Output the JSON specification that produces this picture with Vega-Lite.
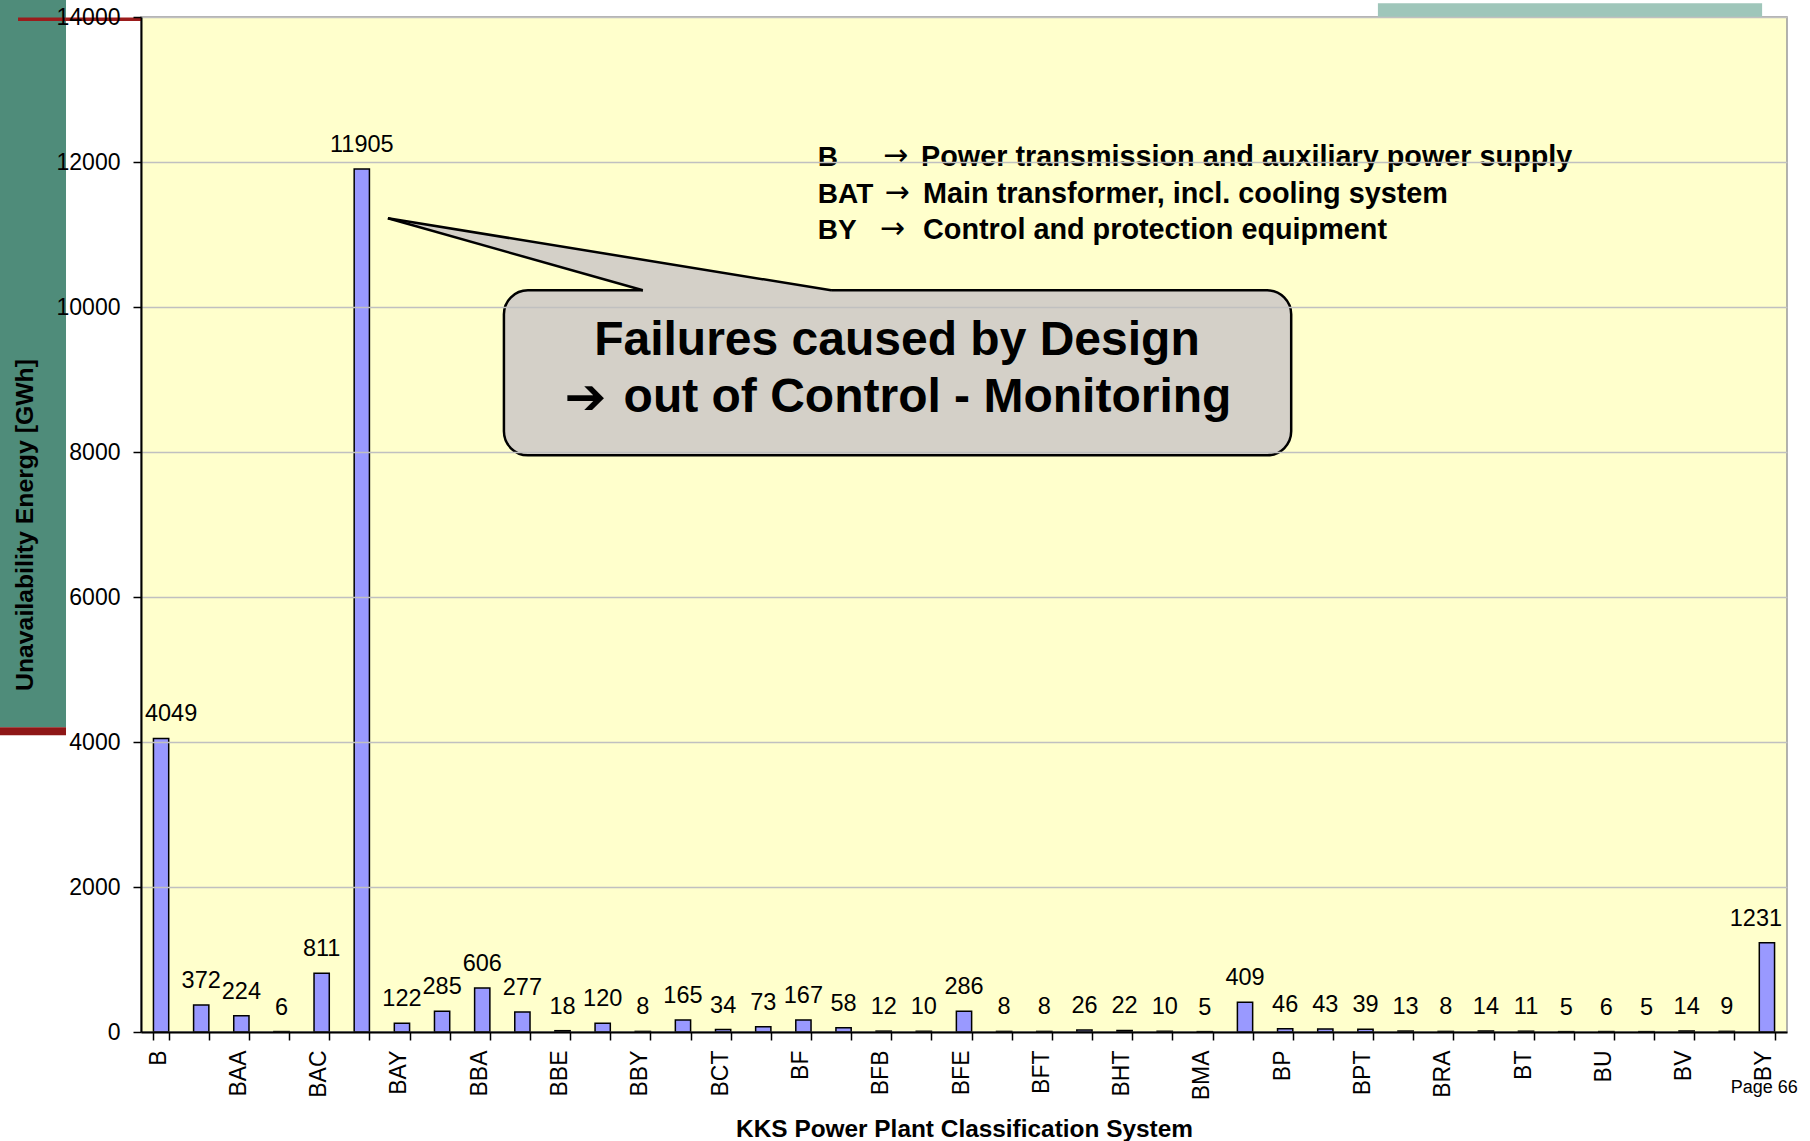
{
  "$schema": "https://vega.github.io/schema/vega-lite/v6.json",
  "width": 1646,
  "height": 1015,
  "autosize": {"type": "none"},
  "padding": {"left": 141, "top": 17, "right": 23, "bottom": 109},
  "background": "white",
  "config": {
    "font": "Liberation Sans",
    "view": {"fill": "#FFFFCC", "stroke": "#999999", "strokeWidth": 1.5}
  },
  "datasets": {
    "bars": [
      {"code": "B", "value": 4049}, {"code": "BA", "value": 372}, {"code": "BAA", "value": 224},
      {"code": "BAB", "value": 6}, {"code": "BAC", "value": 811}, {"code": "BAT", "value": 11905},
      {"code": "BAY", "value": 122}, {"code": "BB", "value": 285}, {"code": "BBA", "value": 606},
      {"code": "BBC", "value": 277}, {"code": "BBE", "value": 18}, {"code": "BBT", "value": 120},
      {"code": "BBY", "value": 8}, {"code": "BC", "value": 165}, {"code": "BCT", "value": 34},
      {"code": "BE", "value": 73}, {"code": "BF", "value": 167}, {"code": "BFA", "value": 58},
      {"code": "BFB", "value": 12}, {"code": "BFC", "value": 10}, {"code": "BFE", "value": 286},
      {"code": "BFS", "value": 8}, {"code": "BFT", "value": 8}, {"code": "BH", "value": 26},
      {"code": "BHT", "value": 22}, {"code": "BM", "value": 10}, {"code": "BMA", "value": 5},
      {"code": "BMT", "value": 409}, {"code": "BP", "value": 46}, {"code": "BPA", "value": 43},
      {"code": "BPT", "value": 39}, {"code": "BR", "value": 13}, {"code": "BRA", "value": 8},
      {"code": "BRU", "value": 14}, {"code": "BT", "value": 11}, {"code": "BTA", "value": 5},
      {"code": "BU", "value": 6}, {"code": "BUA", "value": 5}, {"code": "BV", "value": 14},
      {"code": "BX", "value": 9}, {"code": "BY", "value": 1231}
    ],
    "shapes": [
      {"part": "sidebar", "x": -3.52, "x2": -1.868, "value": 14250, "value2": 4203},
      {"part": "redband", "x": -3.52, "x2": -1.868, "value": 4203, "value2": 4092},
      {"part": "tealbar", "x": 30.81, "x2": 40.38, "value": 14189, "value2": 14000},
      {"part": "redline", "x": -3.063, "x2": 0, "value": 13968, "value2": 13968},
      {"part": "callout", "x": 9.04, "x2": 28.65, "value": 10230, "value2": 7954},
      {"part": "edge", "x": 6.15, "x2": 12.5, "value": 11224, "value2": 10230},
      {"part": "edge", "x": 6.15, "x2": 17.19, "value": 11224, "value2": 10230}
    ],
    "pointer": [
      {"x": 6.15, "value": 11224, "value2": 11224},
      {"x": 12.5, "value": 10652, "value2": 10230},
      {"x": 12.52, "value": 10650, "value2": 10150},
      {"x": 17.19, "value": 10230, "value2": 10150}
    ],
    "texts": [
      {"grp": "key", "x": 16.86, "value": 11940, "label": "B"},
      {"grp": "key", "x": 16.86, "value": 11430, "label": "BAT"},
      {"grp": "key", "x": 16.86, "value": 10934, "label": "BY"},
      {"grp": "arrow", "x": 18.48, "value": 11940, "label": "→"},
      {"grp": "arrow", "x": 18.52, "value": 11430, "label": "→"},
      {"grp": "arrow", "x": 18.4, "value": 10934, "label": "→"},
      {"grp": "desc", "x": 19.43, "value": 11940, "label": "Power transmission and auxiliary power supply"},
      {"grp": "desc", "x": 19.48, "value": 11430, "label": "Main transformer, incl. cooling system"},
      {"grp": "desc", "x": 19.48, "value": 10934, "label": "Control and protection equipment"},
      {"grp": "callout", "x": 18.83, "value": 9334, "label": "Failures caused by Design"},
      {"grp": "callout", "x": 19.59, "value": 8547, "label": "out of Control - Monitoring"},
      {"grp": "carrow", "x": 10.55, "value": 8547, "label": "➔"},
      {"grp": "page", "x": 41.27, "value": -846, "label": "Page 66"}
    ]
  },
  "resolve": {"scale": {"x": "independent"}},
  "encoding": {
    "y": {
      "field": "value", "type": "quantitative",
      "scale": {"domain": [0, 14000], "nice": false, "zero": true},
      "title": "Unavailability Energy [GWh]",
      "axis": {
        "zindex": 1,
        "values": [0, 2000, 4000, 6000, 8000, 10000, 12000, 14000],
        "format": "d",
        "grid": true, "gridColor": "#C0C0C0", "gridWidth": 1.5,
        "labelFontSize": 23, "labelColor": "black", "labelPadding": 13,
        "tickSize": 8, "tickColor": "black", "tickWidth": 1.5,
        "domainColor": "black", "domainWidth": 2,
        "titleFontSize": 24.8, "titleFontWeight": "bold", "titleColor": "black", "titlePadding": 18.5
      }
    }
  },
  "layer": [
    {
      "data": {"name": "bars"},
      "layer": [
        {
          "mark": {"type": "bar", "fill": "#9999FF", "stroke": "black", "strokeWidth": 1.5},
          "encoding": {
            "x": {
              "field": "code", "type": "nominal", "sort": null,
              "scale": {"paddingInner": 0.62, "paddingOuter": 0.31},
              "title": "KKS Power Plant Classification System",
              "axis": {
                "zindex": 1,
                "labelAngle": -90, "labelAlign": "right", "labelBaseline": "middle",
                "labelFontSize": 23, "labelColor": "black", "labelPadding": 10, "labelOffset": -3,
                "labelExpr": "indexof(['B','BAA','BAC','BAY','BBA','BBE','BBY','BCT','BF','BFB','BFE','BFT','BHT','BMA','BP','BPT','BRA','BT','BU','BV','BY'], datum.value) >= 0 ? datum.value : ''",
                "tickBand": "extent", "ticks": true, "tickSize": 8, "tickColor": "black", "tickWidth": 1.5,
                "domainColor": "black", "domainWidth": 2,
                "titleFontSize": 24.4, "titleFontWeight": "bold", "titleColor": "black", "titlePadding": 18
              }
            }
          }
        },
        {
          "mark": {
            "type": "text", "fontSize": 23.5, "color": "black", "align": "center", "baseline": "alphabetic", "dy": -17,
            "dx": {"expr": "datum.code === 'B' ? 10 : (datum.code === 'BY' ? -11 : 0)"}
          },
          "encoding": {
            "x": {"field": "code", "type": "nominal", "sort": null},
            "text": {"field": "value", "type": "quantitative", "format": "d"}
          }
        }
      ]
    },
    {
      "layer": [
        {
          "data": {"name": "shapes"},
          "transform": [{"filter": "datum.part === 'sidebar'"}],
          "mark": {"type": "rect", "fill": "#4F8C7A"},
          "encoding": {
            "x": {"field": "x", "type": "quantitative", "scale": {"domain": [0, 41], "nice": false, "zero": false}, "axis": null},
            "x2": {"field": "x2"},
            "y2": {"field": "value2"}
          }
        },
        {
          "data": {"name": "shapes"},
          "transform": [{"filter": "datum.part === 'redband'"}],
          "mark": {"type": "rect", "fill": "#8E1717"},
          "encoding": {
            "x": {"field": "x", "type": "quantitative", "scale": {"domain": [0, 41], "nice": false, "zero": false}, "axis": null},
            "x2": {"field": "x2"},
            "y2": {"field": "value2"}
          }
        },
        {
          "data": {"name": "shapes"},
          "transform": [{"filter": "datum.part === 'tealbar'"}],
          "mark": {"type": "rect", "fill": "#9FC6BA"},
          "encoding": {
            "x": {"field": "x", "type": "quantitative", "scale": {"domain": [0, 41], "nice": false, "zero": false}, "axis": null},
            "x2": {"field": "x2"},
            "y2": {"field": "value2"}
          }
        },
        {
          "data": {"name": "shapes"},
          "transform": [{"filter": "datum.part === 'redline'"}],
          "mark": {"type": "rule", "stroke": "#9B1C1C", "strokeWidth": 3.5},
          "encoding": {
            "x": {"field": "x", "type": "quantitative", "scale": {"domain": [0, 41], "nice": false, "zero": false}, "axis": null},
            "x2": {"field": "x2"}
          }
        },
        {
          "data": {"name": "shapes"},
          "transform": [{"filter": "datum.part === 'callout'"}],
          "mark": {"type": "rect", "fill": "#D4D0C8", "stroke": "black", "strokeWidth": 2.5, "cornerRadius": 24},
          "encoding": {
            "x": {"field": "x", "type": "quantitative", "scale": {"domain": [0, 41], "nice": false, "zero": false}, "axis": null},
            "x2": {"field": "x2"},
            "y2": {"field": "value2"}
          }
        },
        {
          "data": {"name": "pointer"},
          "mark": {"type": "area", "fill": "#D4D0C8", "stroke": null, "interpolate": "linear"},
          "encoding": {
            "x": {"field": "x", "type": "quantitative", "scale": {"domain": [0, 41], "nice": false, "zero": false}, "axis": null},
            "y2": {"field": "value2"}
          }
        },
        {
          "data": {"name": "shapes"},
          "transform": [{"filter": "datum.part === 'edge'"}],
          "mark": {"type": "rule", "stroke": "black", "strokeWidth": 2.5},
          "encoding": {
            "x": {"field": "x", "type": "quantitative", "scale": {"domain": [0, 41], "nice": false, "zero": false}, "axis": null},
            "x2": {"field": "x2"},
            "y2": {"field": "value2"}
          }
        },
        {
          "data": {"name": "texts"},
          "transform": [{"filter": "datum.grp === 'key'"}],
          "mark": {"type": "text", "fontSize": 28, "fontWeight": "bold", "color": "black", "align": "left", "baseline": "alphabetic"},
          "encoding": {
            "x": {"field": "x", "type": "quantitative", "scale": {"domain": [0, 41], "nice": false, "zero": false}, "axis": null},
            "text": {"field": "label"}
          }
        },
        {
          "data": {"name": "texts"},
          "transform": [{"filter": "datum.grp === 'arrow'"}],
          "mark": {"type": "text", "font": "DejaVu Sans", "fontSize": 30, "color": "black", "align": "left", "baseline": "alphabetic", "dy": -1},
          "encoding": {
            "x": {"field": "x", "type": "quantitative", "scale": {"domain": [0, 41], "nice": false, "zero": false}, "axis": null},
            "text": {"field": "label"}
          }
        },
        {
          "data": {"name": "texts"},
          "transform": [{"filter": "datum.grp === 'desc'"}],
          "mark": {"type": "text", "fontSize": 28.8, "fontWeight": "bold", "color": "black", "align": "left", "baseline": "alphabetic"},
          "encoding": {
            "x": {"field": "x", "type": "quantitative", "scale": {"domain": [0, 41], "nice": false, "zero": false}, "axis": null},
            "text": {"field": "label"}
          }
        },
        {
          "data": {"name": "texts"},
          "transform": [{"filter": "datum.grp === 'callout'"}],
          "mark": {"type": "text", "fontSize": 48, "fontWeight": "bold", "color": "black", "align": "center", "baseline": "alphabetic"},
          "encoding": {
            "x": {"field": "x", "type": "quantitative", "scale": {"domain": [0, 41], "nice": false, "zero": false}, "axis": null},
            "text": {"field": "label"}
          }
        },
        {
          "data": {"name": "texts"},
          "transform": [{"filter": "datum.grp === 'carrow'"}],
          "mark": {"type": "text", "font": "DejaVu Sans", "fontSize": 50, "fontWeight": "bold", "color": "black", "align": "left", "baseline": "alphabetic", "dy": 2},
          "encoding": {
            "x": {"field": "x", "type": "quantitative", "scale": {"domain": [0, 41], "nice": false, "zero": false}, "axis": null},
            "text": {"field": "label"}
          }
        },
        {
          "data": {"name": "texts"},
          "transform": [{"filter": "datum.grp === 'page'"}],
          "mark": {"type": "text", "fontSize": 18, "color": "black", "align": "right", "baseline": "alphabetic"},
          "encoding": {
            "x": {"field": "x", "type": "quantitative", "scale": {"domain": [0, 41], "nice": false, "zero": false}, "axis": null},
            "text": {"field": "label"}
          }
        }
      ]
    }
  ]
}
